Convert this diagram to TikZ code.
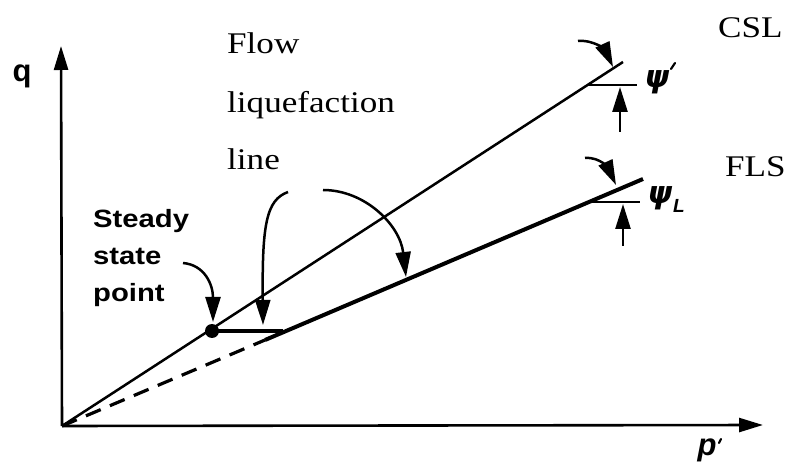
\documentclass[tikz,border=0pt]{standalone}
\usepackage{fontspec}
\usetikzlibrary{arrows.meta}
\newfontfamily\serifl[FakeStretch=1.17]{Liberation Serif}
\newfontfamily\sansl[FakeStretch=1.17]{Liberation Sans}
\newfontfamily\sansp{Liberation Sans}
\newfontfamily\dejavu{DejaVu Sans}
\begin{document}
\begin{tikzpicture}[x=1bp,y=-1bp,
  tipA/.style={-{Triangle[length=24bp,width=14bp]}},
  tipB/.style={-{Triangle[length=25bp,width=15bp]}},
  axis/.style={line width=2.6bp, tipA},
  thin line/.style={line width=2.5bp},
  thick line/.style={line width=4bp},
  curvearrow/.style={line width=2.5bp, tipB},
  primemark/.style={line width=2.2bp, line cap=round},
  serlab/.style={anchor=base west, inner sep=0pt, font=\fontsize{30bp}{30bp}\serifl},
  sanslab/.style={anchor=base west, inner sep=0pt, font=\fontsize{25bp}{25bp}\sansl\bfseries},
  greek/.style={inner sep=0pt, font=\fontsize{31bp}{31bp}\dejavu\bfseries\itshape}
]
\useasboundingbox (0,0) rectangle (789,464);

% axes
\coordinate (O) at (62,426);
\coordinate (ytop) at (61,46);
\coordinate (xend) at (763,425);
\draw[axis] (O) -- (ytop);
\draw[axis] (O) -- (xend);
\node[inner sep=0pt, font=\fontsize{31bp}{31bp}\sansp\bfseries] (q) at (22,76) {q};
\node[inner sep=0pt, font=\fontsize{31bp}{31bp}\sansp\bfseries\itshape] (p) at (707,450) {p};
\coordinate (pp1) at (721,439);
\coordinate (pp2) at (719,443);
\draw[primemark] (pp1) -- (pp2);

% CSL
\coordinate (cslend) at (623,62);
\draw[thin line] (O) -- (cslend);
\node[serlab] (csl) at (718,38) {CSL};

% FLS
\coordinate (flsstart) at (265,340);
\coordinate (flsend) at (643,179);
\draw[thick line] (flsstart) -- (flsend);
\draw[line width=3.2bp, dash pattern=on 16bp off 10bp] (O) -- (flsstart);
\node[serlab] (fls) at (725,177) {FLS};

% steady state point
\coordinate (ssp) at (212,331);
\coordinate (hend) at (283,331);
\draw[line width=3.2bp] (ssp) -- (hend);
\fill (ssp) circle (7bp);

% psi'
\coordinate (t1a) at (588,85);
\coordinate (t1b) at (637,85);
\draw[thin line] (t1a) -- (t1b);
\coordinate (u1a) at (620,132);
\coordinate (u1b) at (620,87);
\draw[curvearrow] (u1a) -- (u1b);
\node[greek] (psi1) at (657,82) {ψ};
\coordinate (pr1) at (675,63);
\coordinate (pr2) at (671,69);
\draw[primemark] (pr1) -- (pr2);

% psi_L
\coordinate (t2a) at (592,202);
\coordinate (t2b) at (640,202);
\draw[thin line] (t2a) -- (t2b);
\coordinate (u2a) at (623,246);
\coordinate (u2b) at (623,204);
\draw[curvearrow] (u2a) -- (u2b);
\node[greek] (psi2) at (660,198) {ψ};
\node[inner sep=0pt, font=\fontsize{19bp}{19bp}\sansp\bfseries\itshape] (L) at (679,206) {L};

% curved arrows on line ends
\coordinate (c1s) at (578,41);
\coordinate (c1e) at (613,67);
\draw[curvearrow] (c1s) to[out=5,in=115] (c1e);
\coordinate (c2s) at (585,158);
\coordinate (c2e) at (616,185);
\draw[curvearrow] (c2s) to[out=5,in=115] (c2e);

% Flow liquefaction line
\node[serlab] (flow) at (227,54) {Flow};
\node[serlab] (liq) at (227,113) {liquefaction};
\node[serlab] (line) at (227,170) {line};
\coordinate (f1s) at (288,192);
\coordinate (f1e) at (263,325);
\draw[curvearrow] (f1s) .. controls (266,200) and (262,225) .. (f1e);
\coordinate (f2s) at (323,190);
\coordinate (f2e) at (406,277);
\draw[curvearrow] (f2s) .. controls (365,190) and (400,225) .. (f2e);

% steady state label
\node[sanslab] (steady) at (93,228) {Steady};
\node[sanslab] (state) at (93,265) {state};
\node[sanslab] (point) at (93,302) {point};
\coordinate (s1s) at (183,263);
\coordinate (s1e) at (213,322);
\draw[curvearrow] (s1s) .. controls (205,265) and (213,285) .. (s1e);
\end{tikzpicture}
\end{document}
